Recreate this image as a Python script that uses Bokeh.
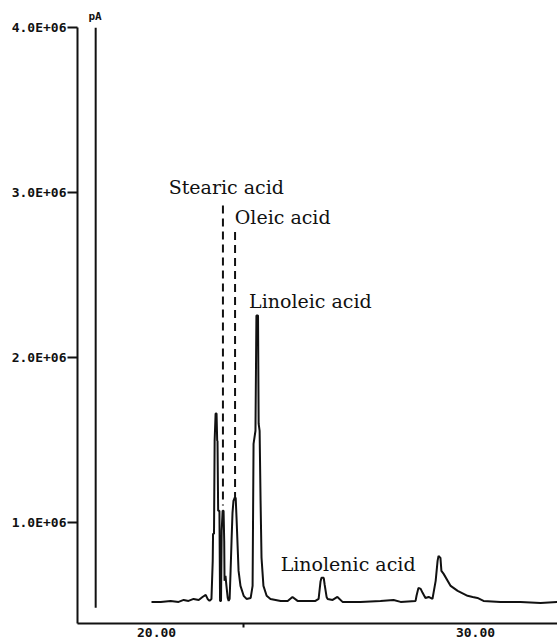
from bokeh.plotting import figure
from bokeh.models import Range1d, FixedTicker
from bokeh.core.properties import value
from bokeh.embed import file_html
from bokeh.resources import INLINE

# Retention time (min) and detector signal (x 1E+06)
trace_time = [19.84, 20.13, 20.44, 20.69, 20.85, 21.00, 21.16, 21.32, 21.44, 21.54,
              21.60, 21.66, 21.72, 21.76, 21.77, 21.80, 21.82, 21.85, 21.88, 21.90,
              21.91, 21.93, 21.97, 21.99, 22.02, 22.04, 22.07, 22.10, 22.12, 22.13,
              22.16, 22.19, 22.23, 22.26, 22.29, 22.32, 22.35, 22.38, 22.41, 22.45,
              22.48, 22.51, 22.54, 22.57, 22.63, 22.73, 22.82, 22.95, 23.01, 23.04,
              23.10, 23.13, 23.18, 23.20, 23.23, 23.26, 23.29, 23.35, 23.45, 23.57,
              23.89, 24.11, 24.26, 24.42, 24.98, 25.08, 25.14, 25.17, 25.24, 25.27,
              25.33, 25.36, 25.52, 25.67, 25.83, 26.39, 27.02, 27.43, 27.65, 28.12,
              28.15, 28.21, 28.28, 28.34, 28.43, 28.53, 28.65, 28.75, 28.81, 28.84,
              28.90, 28.93, 29.00, 29.22, 29.44, 29.75, 29.91, 30.06, 30.25, 30.78,
              31.41, 32.04, 32.57]
trace_signal = [0.516, 0.516, 0.522, 0.516, 0.528, 0.522, 0.534, 0.528, 0.546, 0.559,
                0.534, 0.522, 0.534, 0.765, 0.929, 0.929, 1.494, 1.658, 1.658, 1.494,
                1.494, 1.069, 1.069, 0.522, 0.522, 0.947, 1.069, 1.069, 0.886, 0.644,
                0.674, 0.613, 0.540, 0.522, 0.534, 0.704, 0.886, 1.056, 1.129, 1.148,
                1.148, 1.008, 0.856, 0.704, 0.613, 0.553, 0.534, 0.540, 0.613, 1.475,
                1.554, 2.253, 2.253, 1.597, 1.554, 1.129, 0.783, 0.613, 0.553, 0.534,
                0.522, 0.522, 0.546, 0.522, 0.522, 0.534, 0.640, 0.662, 0.662, 0.620,
                0.546, 0.534, 0.528, 0.546, 0.516, 0.516, 0.522, 0.528, 0.516, 0.522,
                0.553, 0.601, 0.595, 0.571, 0.540, 0.546, 0.534, 0.644, 0.765, 0.795,
                0.783, 0.704, 0.686, 0.613, 0.583, 0.553, 0.546, 0.540, 0.522, 0.516,
                0.516, 0.510, 0.516]

# Solvent peak (off scale)
solvent_time = [18.09, 18.09]
solvent_signal = [0.48, 4.0]

# Peak labels and their dashed leader lines
label_names = ["Stearic acid", "Oleic acid", "Linoleic acid", "Linolenic acid"]
label_time = [20.38, 22.45, 22.90, 23.89]
label_signal = [3.03, 2.85, 2.34, 0.747]

leader_time = [[22.08, 22.08], [22.46, 22.46]]
leader_signal = [[2.92, 1.10], [2.76, 1.15]]

x_tick_values = [20, 30]
x_tick_labels = ["20.00", "30.00"]
x_marker_tick = [22.73]
y_tick_values = [1, 2, 3, 4]
y_tick_labels = ["1.0E+06", "2.0E+06", "3.0E+06", "4.0E+06"]
unit_label = "pA"

INK = "#111111"

p = figure(width=557, height=639,
           x_range=Range1d(17.52, 32.57), y_range=Range1d(0.385, 4.0),
           output_backend="svg", toolbar_location=None,
           min_border_left=77, min_border_right=0, min_border_top=27,
           min_border_bottom=0, background_fill_color="white",
           border_fill_color="white")
p.outline_line_color = None
p.xgrid.visible = False
p.ygrid.visible = False

p.title.text = unit_label
p.title.align = "left"
p.title.offset = 11
p.title.text_font = "DejaVu Sans Mono"
p.title.text_font_style = "bold"
p.title.text_font_size = "11px"
p.title.text_color = INK
p.title.standoff = 9

p.line(trace_time, trace_signal, line_color=INK, line_width=2)
p.line(solvent_time, solvent_signal, line_color=INK, line_width=2)
p.multi_line(leader_time, leader_signal, line_color=INK, line_width=2,
             line_dash="8 5")

p.text(x=label_time, y=label_signal, text=label_names,
       text_font=value("DejaVu Serif"), text_font_size="19px",
       text_baseline="middle", text_align="left", text_color=INK)

xa = p.xaxis[0]
xa.ticker = FixedTicker(ticks=x_tick_values, minor_ticks=x_marker_tick)
xa.major_label_overrides = dict(zip(x_tick_values, x_tick_labels))
xa.major_tick_out = 0
xa.major_tick_in = 0
xa.minor_tick_out = 4
xa.minor_tick_in = 0
xa.minor_tick_line_width = 2
xa.minor_tick_line_color = INK
xa.major_label_standoff = 0
xa.axis_line_width = 2
xa.axis_line_color = INK
xa.major_label_text_font = "DejaVu Sans Mono"
xa.major_label_text_font_style = "bold"
xa.major_label_text_font_size = "13px"
xa.major_label_text_color = INK

ya = p.yaxis[0]
ya.ticker = FixedTicker(ticks=y_tick_values, minor_ticks=[])
ya.major_label_overrides = dict(zip(y_tick_values, y_tick_labels))
ya.major_tick_out = 10
ya.major_tick_in = 0
ya.major_tick_line_width = 2
ya.major_tick_line_color = INK
ya.major_label_standoff = 1
ya.axis_line_width = 2
ya.axis_line_color = INK
ya.major_label_text_font = "DejaVu Sans Mono"
ya.major_label_text_font_style = "bold"
ya.major_label_text_font_size = "13px"
ya.major_label_text_color = INK

open("out.html", "w").write(file_html(p, INLINE))
